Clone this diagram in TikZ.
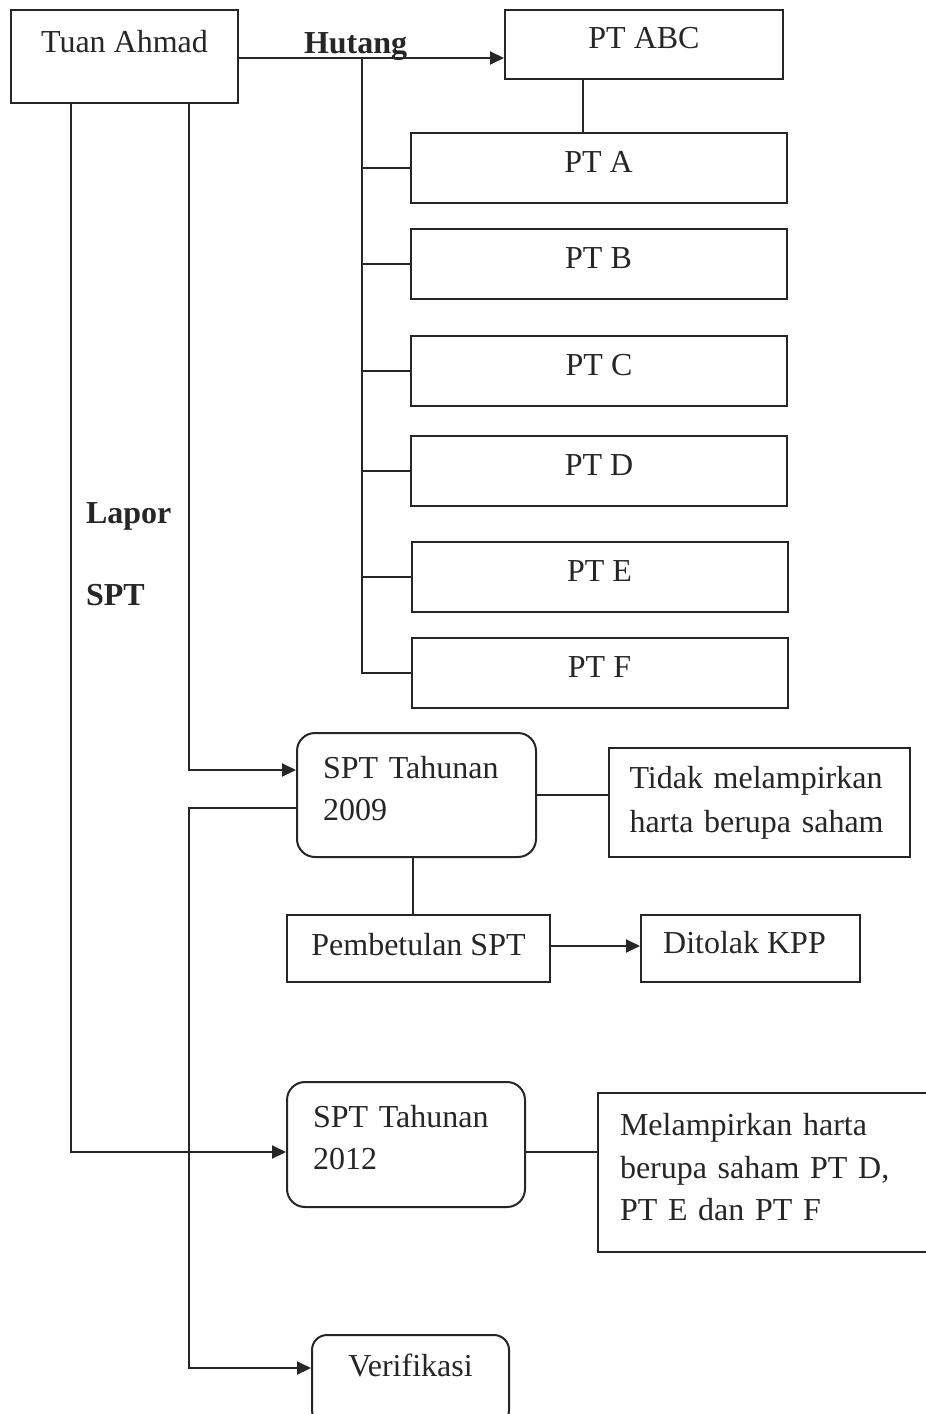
\documentclass[tikz,border=0pt]{standalone}
\usepackage{fontspec}
\setmainfont{Liberation Serif}
\usetikzlibrary{arrows.meta}
\definecolor{ink}{RGB}{38,38,38}
\begin{document}
\begin{tikzpicture}[x=1pt,y=-1pt, line width=2pt, draw=ink, text=ink,
  box/.style={draw=ink, line width=2pt, rectangle, inner sep=0pt, text height=22pt,
    font=\fontsize{32}{42}\selectfont},
  rbox/.style={box, rounded corners=18pt},
  ptbox/.style={box, minimum width=376pt, minimum height=70pt, text depth=13pt},
  lab/.style={font=\fontsize{32}{40}\selectfont\bfseries, inner sep=0pt, anchor=base west},
  conn/.style={draw=ink, line width=2pt},
  arr/.style={conn, -{Triangle[length=14pt,width=13pt]}}
]
\useasboundingbox (0,0) rectangle (926,1414);
\clip (0,0) rectangle (926,1414);
\fill[white] (0,0) rectangle (926,1414);

% top boxes
\node[box, minimum width=227pt, minimum height=93pt, text depth=30pt] (tuan) at (124.5,56.5) {Tuan Ahmad};
\node[box, minimum width=278pt, minimum height=69pt, text depth=14pt] (ptabc) at (644,44.5) {PT ABC};

\node[ptbox] (pta) at (598.5,168) {PT A};
\node[ptbox] (ptb) at (598.5,263.5) {PT B};
\node[ptbox] (ptc) at (599,370.5) {PT C};
\node[ptbox] (ptd) at (599,470.5) {PT D};
\node[ptbox] (pte) at (599.5,576.5) {PT E};
\node[ptbox] (ptf) at (599.5,672.5) {PT F};

% labels
\node[lab] (hutang) at (303,53) {Hutang};
\node[lab] (lapor) at (85,523) {Lapor};
\node[lab] (spt) at (85,605) {SPT};

% SPT 2009 group
\node[rbox, minimum width=239pt, minimum height=124pt, text width=187pt, align=left, text depth=55pt] (spt09) at (416.5,795) {SPT Tahunan\\2009};
\node[box, minimum width=301pt, minimum height=109pt, text width=260pt, align=left, text depth=50pt,
  font=\fontsize{32}{44}\selectfont] (tidak) at (759.5,802.5) {Tidak melampirkan\\harta berupa saham};
\node[box, minimum width=263pt, minimum height=67pt, text depth=8pt] (pemb) at (418.5,948.5) {Pembetulan SPT};
\node[box, minimum width=219pt, minimum height=67pt, text depth=12pt] (ditolak) at (750.5,948.5) {\hspace*{-12pt}Ditolak KPP};

% SPT 2012 group
\node[rbox, minimum width=238pt, minimum height=125pt, text width=186pt, align=left, text depth=56pt] (spt12) at (406,1144.5) {SPT Tahunan\\2012};
\node[box, minimum width=334pt, minimum height=159pt, text width=290pt, align=left, text depth=96pt,
  font=\fontsize{32}{42.5}\selectfont] (melamp) at (765,1172.5) {Melampirkan harta\\berupa saham PT D,\\PT E dan PT F};

\node[rbox, rounded corners=15pt, minimum width=197pt, minimum height=90pt, text depth=29pt] (verif) at (410.5,1380) {Verifikasi};

% connectors: Hutang
\coordinate (trunk) at (362,58);
\draw[arr] (tuan.east |- 0,58) -- (ptabc.west |- 0,58);
\draw[conn] (ptabc.south -| 583,0) -- (pta.north -| 583,0);
\draw[conn] (trunk) -- (trunk |- ptf.west) -- (ptf.west);
\foreach \n in {pta,ptb,ptc,ptd,pte}{
  \draw[conn] (\n.west) -- (\n.west -| trunk);
}

% left vertical lines
\draw[arr] (tuan.south -| 71,0) -- (71,1152) -- (spt12.west |- 0,1152);
\draw[arr] (tuan.south -| 189,0) -- (189,770) -- (spt09.west |- 0,770);
\draw[arr] (spt09.west |- 0,808) -- (189,808) -- (189,1368) -- (verif.west |- 0,1368);

% SPT 2009 connectors
\draw[conn] (spt09.east |- 0,795) -- (tidak.west |- 0,795);
\draw[conn] (spt09.south -| 413,0) -- (pemb.north -| 413,0);
\draw[arr] (pemb.east |- 0,946) -- (ditolak.west |- 0,946);

% SPT 2012 connector
\draw[conn] (spt12.east |- 0,1152) -- (melamp.west |- 0,1152);
\end{tikzpicture}
\end{document}
